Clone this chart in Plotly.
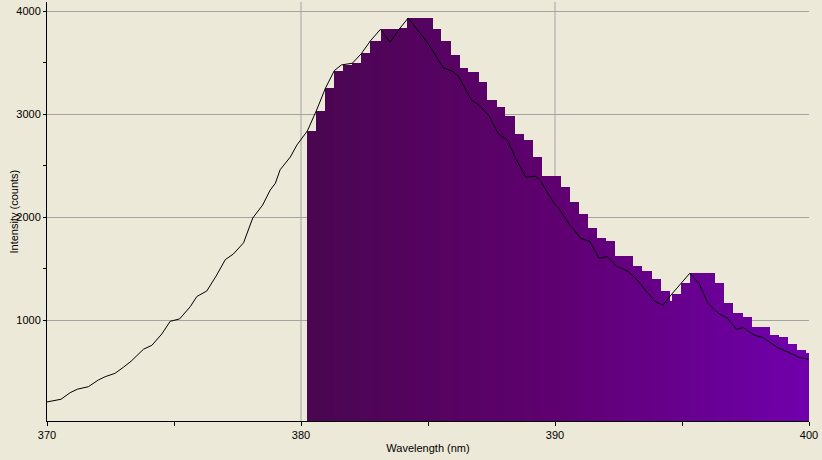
import plotly.graph_objects as go

# Spectrum line (wavelength nm, intensity counts)
line_wl = [370.00, 370.55, 370.91, 371.20, 371.63, 372.02, 372.29, 372.68, 373.01, 373.31,
           373.80, 374.13, 374.52, 374.85, 375.22, 375.64, 375.90, 376.29, 376.66, 377.02,
           377.34, 377.74, 378.10, 378.49, 378.79, 378.99, 379.18, 379.58, 379.84, 380.25,
           380.60, 380.96, 381.31, 381.59, 382.02, 382.38, 382.73, 383.13, 383.51, 383.84,
           384.22, 384.57, 384.94, 385.29, 385.61, 385.95, 386.21, 386.71, 387.03, 387.40,
           387.76, 388.13, 388.45, 388.85, 389.24, 389.43, 389.96, 390.15, 390.35, 390.62,
           390.75, 391.01, 391.38, 391.73, 392.06, 392.42, 392.86, 393.22, 393.67, 393.90,
           394.03, 394.25, 394.60, 394.95, 395.31, 395.54, 395.67, 396.03, 396.43, 396.79,
           397.14, 397.41, 397.84, 398.20, 398.50, 398.79, 399.17, 399.61, 399.98]
line_counts = [207, 233, 297, 331, 355, 420, 452, 485, 544, 602,
               719, 757, 867, 990, 1013, 1132, 1231, 1284, 1430, 1589,
               1644, 1753, 1993, 2119, 2265, 2330, 2462, 2585, 2702, 2838,
               3032, 3252, 3423, 3479, 3495, 3590, 3712, 3825, 3699, 3818,
               3935, 3825, 3709, 3576, 3448, 3420, 3365, 3139, 3085, 2988,
               2814, 2748, 2573, 2391, 2398, 2352, 2136, 2087, 2006, 1909,
               1877, 1796, 1763, 1602, 1617, 1527, 1477, 1396, 1260, 1190,
               1171, 1147, 1255, 1352, 1457, 1391, 1359, 1162, 1068, 1019,
               913, 929, 857, 830, 777, 731, 692, 639, 622]

# Histogram bins (bin edges in nm, one value per bin)
bin_edges = [380.25, 380.60, 380.96, 381.31, 381.67, 382.02, 382.38, 382.73, 383.13, 383.48,
             383.84, 384.19, 384.51, 384.82, 385.18, 385.53, 385.89, 386.24, 386.59, 386.99,
             387.34, 387.70, 388.05, 388.41, 388.76, 389.12, 389.47, 389.83, 390.22, 390.58,
             390.93, 391.28, 391.64, 391.99, 392.35, 392.70, 393.06, 393.41, 393.81, 394.16,
             394.52, 394.60, 394.95, 395.31, 395.62, 395.98, 396.29, 396.64, 397.00, 397.39,
             397.75, 398.10, 398.46, 398.81, 399.17, 399.52, 399.88, 400.00]
bin_counts = [2838, 3032, 3252, 3423, 3479, 3495, 3592, 3712, 3825, 3825,
              3838, 3935, 3935, 3935, 3828, 3712, 3576, 3450, 3411, 3314,
              3139, 3068, 2983, 2809, 2750, 2587, 2403, 2401, 2294, 2148,
              2032, 1896, 1799, 1770, 1624, 1624, 1527, 1479, 1401, 1285,
              1187, 1255, 1363, 1459, 1459, 1459, 1363, 1169, 1072, 1033,
              936, 936, 858, 838, 770, 712, 683]

x_major = [370, 380, 390, 400]
x_minor = [375, 385, 395]
y_major = [1000, 2000, 3000, 4000]
y_minor = [1500, 2500, 3500]

BG = "#ECE9D8"
GRID = "#A3A3A3"
FONT = "Liberation Sans, Arial, sans-serif"

centers = [(a + b) / 2 for a, b in zip(bin_edges[:-1], bin_edges[1:])]
widths = [b - a for a, b in zip(bin_edges[:-1], bin_edges[1:])]

# horizontal colour gradient (wavelength colouring)
stops = [(380.25, (74, 6, 80)), (390.0, (95, 0, 112)), (400.0, (112, 0, 172))]
def color_at(w):
    for (w0, c0), (w1, c1) in zip(stops[:-1], stops[1:]):
        if w <= w1:
            t = max(0.0, (w - w0) / (w1 - w0))
            c = [round(c0[i] + (c1[i] - c0[i]) * t) for i in range(3)]
            return "rgb(%d,%d,%d)" % tuple(c)
    return "rgb(%d,%d,%d)" % stops[-1][1]
bar_colors = [color_at(c) for c in centers]

fig = go.Figure()
fig.add_trace(go.Bar(x=centers, y=bin_counts, width=widths,
                     marker=dict(color=bar_colors, line=dict(width=0)),
                     showlegend=False, hoverinfo="skip"))
fig.add_trace(go.Scatter(x=line_wl, y=line_counts, mode="lines",
                         line=dict(color="black", width=1),
                         showlegend=False, hoverinfo="skip"))

for xv in [380, 390]:
    fig.add_shape(type="line", xref="x", yref="paper", x0=xv, x1=xv, y0=0, y1=1,
                  line=dict(color=GRID, width=1), layer="below")

# y-axis title as a rotated annotation placed left of the tick labels
fig.add_annotation(text="Intensity (counts)", xref="paper", yref="paper",
                   x=0, y=0.5, xanchor="center", yanchor="middle", xshift=-34,
                   textangle=-90, showarrow=False, font=dict(size=11, family=FONT))

fig.update_layout(
    width=822, height=460,
    margin=dict(l=47, r=13, t=2, b=39),
    paper_bgcolor=BG, plot_bgcolor=BG,
    bargap=0,
    font=dict(family=FONT, size=11, color="black"),
    xaxis=dict(range=[370, 400], tickvals=x_major, ticktext=[str(v) for v in x_major],
               showgrid=False, zeroline=False, showline=True, linecolor="black", linewidth=1,
               ticks="outside", ticklen=4, tickcolor="black",
               minor=dict(tickvals=x_minor, ticks="outside", ticklen=4, tickcolor="black", showgrid=False),
               title=dict(text="Wavelength (nm)", standoff=4, font=dict(size=11))),
    yaxis=dict(range=[22, 4090], tickvals=y_major, ticktext=[str(v) for v in y_major],
               showgrid=True, gridcolor=GRID, gridwidth=1, zeroline=False,
               showline=True, linecolor="black", linewidth=1,
               ticks="outside", ticklen=3, tickcolor="black",
               minor=dict(tickvals=y_minor, ticks="outside", ticklen=3, tickcolor="black", showgrid=False)),
)

fig.write_html("out.html", config={"displayModeBar": False},
               post_script="document.body.style.margin='0';document.body.style.background='#ECE9D8';document.body.style.overflow='hidden';")
